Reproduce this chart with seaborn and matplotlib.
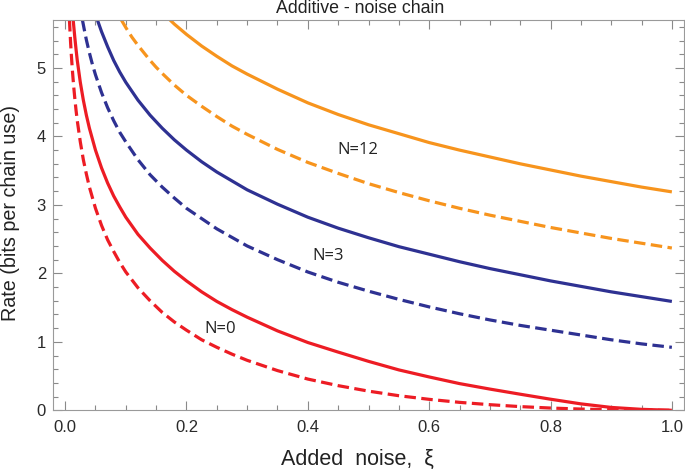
import matplotlib
matplotlib.use("Agg")
import matplotlib.pyplot as plt
from matplotlib.ticker import MultipleLocator
import pandas as pd
import seaborn as sns

# ---- data ----
red_solid_xi = [0.0133, 0.014, 0.016, 0.018, 0.02, 0.025, 0.03, 0.035, 0.04, 0.05, 0.06, 0.07, 0.08,
                0.09, 0.1, 0.12, 0.14, 0.16, 0.18, 0.2, 0.225, 0.25, 0.275, 0.3, 0.35, 0.4, 0.45,
                0.5, 0.55, 0.6, 0.65, 0.7, 0.75, 0.8, 0.85, 0.9, 0.95, 1.0]
red_solid_rate = [5.70, 5.63, 5.44, 5.27, 5.11, 4.79, 4.53, 4.31, 4.12, 3.80, 3.54, 3.32, 3.13,
                  2.97, 2.82, 2.57, 2.37, 2.19, 2.03, 1.89, 1.73, 1.59, 1.47, 1.36, 1.16, 0.99, 0.85,
                  0.715, 0.59, 0.487, 0.39, 0.31, 0.235, 0.162, 0.094, 0.042, 0.014, 0.0]

red_dash_xi = [0.0071, 0.008, 0.009, 0.01, 0.012, 0.014, 0.016, 0.018, 0.02, 0.025, 0.03, 0.035,
               0.04, 0.05, 0.06, 0.07, 0.08, 0.09, 0.1, 0.12, 0.14, 0.16, 0.18, 0.2, 0.225, 0.25,
               0.275, 0.3, 0.35, 0.4, 0.45, 0.5, 0.55, 0.6, 0.65, 0.7, 0.75, 0.8, 0.85, 0.9, 0.95, 1.0]
red_dash_rate = [5.70, 5.54, 5.37, 5.22, 4.96, 4.74, 4.55, 4.38, 4.23, 3.92, 3.66, 3.45,
                 3.26, 2.95, 2.70, 2.49, 2.32, 2.16, 2.02, 1.79, 1.60, 1.43, 1.29, 1.17, 1.03, 0.92,
                 0.82, 0.73, 0.58, 0.456, 0.36, 0.28, 0.213, 0.16, 0.116, 0.082, 0.054, 0.033,
                 0.018, 0.008, 0.002, 0.0]

blue_solid_xi = [0.0532, 0.06, 0.07, 0.08, 0.09, 0.1, 0.12, 0.14, 0.16, 0.18, 0.2, 0.225, 0.25,
                 0.275, 0.3, 0.35, 0.4, 0.45, 0.5, 0.55, 0.6, 0.65, 0.7, 0.75, 0.8, 0.85, 0.9, 0.95, 1.0]
blue_solid_rate = [5.70, 5.53, 5.31, 5.11, 4.94, 4.79, 4.53, 4.31, 4.12, 3.95, 3.80, 3.63, 3.48,
                   3.35, 3.22, 3.01, 2.82, 2.66, 2.52, 2.39, 2.28, 2.17, 2.07, 1.98, 1.89, 1.81,
                   1.73, 1.66, 1.59]

blue_dash_xi = [0.0285, 0.032, 0.035, 0.04, 0.045, 0.05, 0.06, 0.07, 0.08, 0.09, 0.1, 0.12, 0.14,
                0.16, 0.18, 0.2, 0.25, 0.3, 0.35, 0.4, 0.45, 0.5, 0.55, 0.6, 0.65, 0.7, 0.75, 0.8,
                0.85, 0.9, 0.95, 1.0]
blue_dash_rate = [5.70, 5.54, 5.41, 5.22, 5.05, 4.90, 4.64, 4.42, 4.23, 4.06, 3.92, 3.66, 3.44,
                  3.26, 3.10, 2.95, 2.65, 2.40, 2.20, 2.02, 1.87, 1.74, 1.62, 1.51, 1.41, 1.32,
                  1.24, 1.17, 1.10, 1.03, 0.97, 0.92]

orange_solid_xi = [0.173, 0.18, 0.2, 0.225, 0.25, 0.275, 0.3, 0.35, 0.4, 0.45, 0.5, 0.55, 0.6,
                   0.65, 0.7, 0.75, 0.8, 0.85, 0.9, 0.95, 1.0]
orange_solid_rate = [5.70, 5.64, 5.49, 5.32, 5.17, 5.03, 4.91, 4.69, 4.49, 4.32, 4.17, 4.04, 3.91,
                     3.80, 3.70, 3.60, 3.51, 3.42, 3.34, 3.26, 3.19]

orange_dash_xi = [0.0927, 0.1, 0.11, 0.12, 0.13, 0.14, 0.15, 0.16, 0.18, 0.2, 0.225, 0.25, 0.275,
                  0.3, 0.35, 0.4, 0.45, 0.5, 0.55, 0.6, 0.65, 0.7, 0.75, 0.8, 0.85, 0.9, 0.95, 1.0]
orange_dash_rate = [5.70, 5.59, 5.45, 5.33, 5.22, 5.11, 5.01, 4.92, 4.75, 4.60, 4.44, 4.29, 4.15,
                    4.03, 3.81, 3.62, 3.46, 3.31, 3.18, 3.06, 2.95, 2.85, 2.76, 2.67, 2.59, 2.51,
                    2.44, 2.37]

label_texts = ["N=0", "N=3", "N=12"]
label_xi = [0.255, 0.434, 0.483]
label_rate = [1.19, 2.26, 3.80]

x_ticks = [0.0, 0.2, 0.4, 0.6, 0.8, 1.0]
x_tick_labels = ["0.0", "0.2", "0.4", "0.6", "0.8", "1.0"]
y_ticks = [0, 1, 2, 3, 4, 5]
y_tick_labels = ["0", "1", "2", "3", "4", "5"]

title_text = "Additive - noise chain"
xlabel_text = "Added  noise,  \u03be"
ylabel_text = "Rate (bits per chain use)"

# ---- build long table ----
series = [
    ("0", "solid", red_solid_xi, red_solid_rate),
    ("0", "dashed", red_dash_xi, red_dash_rate),
    ("3", "solid", blue_solid_xi, blue_solid_rate),
    ("3", "dashed", blue_dash_xi, blue_dash_rate),
    ("12", "solid", orange_solid_xi, orange_solid_rate),
    ("12", "dashed", orange_dash_xi, orange_dash_rate),
]
frames = []
for n, kind, xs, ys in series:
    frames.append(pd.DataFrame({"xi": xs, "rate": ys, "N": n, "kind": kind}))
df = pd.concat(frames, ignore_index=True)

sns.set_style("ticks")
plt.rcParams["font.family"] = ["Liberation Sans", "DejaVu Sans"]

fig = plt.figure(figsize=(6.85, 4.73), dpi=100)
ax = fig.add_axes([53 / 685, 1 - 410.3 / 473, 631 / 685, 390.3 / 473])

palette = {"0": "#ED1C24", "3": "#2E3192", "12": "#F7941D"}
sns.lineplot(data=df, x="xi", y="rate", hue="N", style="kind",
             palette=palette, dashes={"solid": "", "dashed": (3.6, 1.7)},
             estimator=None, sort=False, linewidth=2.3, legend=False, ax=ax)
for ln in ax.get_lines():
    ln.set_dash_capstyle("butt")
    ln.set_solid_capstyle("butt")
    ln.set_solid_joinstyle("round")

ax.set_xlim(-0.02, 1.02)
ax.set_ylim(0, 5.7)
ax.set_xticks(x_ticks)
ax.set_xticklabels(x_tick_labels)
ax.set_yticks(y_ticks)
ax.set_yticklabels(y_tick_labels)
ax.xaxis.set_minor_locator(MultipleLocator(0.05))
ax.yaxis.set_minor_locator(MultipleLocator(0.2))
ax.tick_params(which="both", direction="in", top=True, right=True,
               color="#8a8a8a", width=0.8)
ax.tick_params(which="major", length=6.5, labelsize=12, labelcolor="#2a2a2a")
ax.tick_params(which="minor", length=3.5)
ax.tick_params(axis="x", which="major", pad=7)
ax.tick_params(axis="y", which="major", pad=5)
for sp in ax.spines.values():
    sp.set_color("#9a9a9a")
    sp.set_linewidth(0.8)

ax.set_xlabel(xlabel_text, fontsize=15.5, color="#222222")
ax.xaxis.set_label_coords(0.483, -0.1)
ax.set_ylabel(ylabel_text, fontsize=14.2, color="#222222")
ax.yaxis.set_label_coords(-0.052, 0.505)

fig.text((53 + 0.4866 * 631) / 685, 1 - 13.3 / 473, title_text,
         ha="center", va="baseline", fontsize=12.8, color="#222222")

for t, xv, yv in zip(label_texts, label_xi, label_rate):
    ax.text(xv, yv, t, ha="center", va="center", fontsize=12,
            family=["Open Sans", "DejaVu Sans"], color="#222222")

fig.savefig("out.png", dpi=100)
